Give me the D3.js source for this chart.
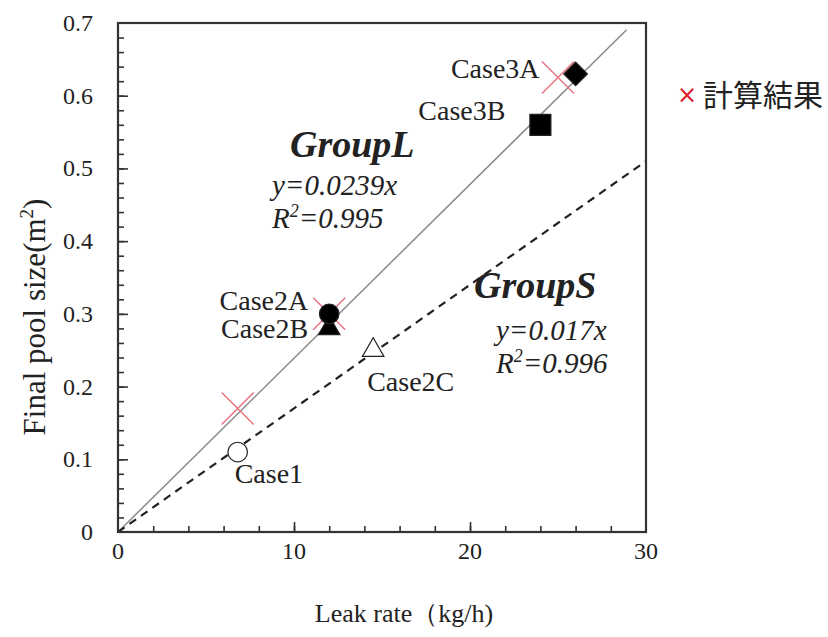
<!DOCTYPE html>
<html>
<head>
<meta charset="utf-8">
<script src="https://cdn.jsdelivr.net/npm/d3@7"></script>
<style>
  html, body { margin: 0; padding: 0; background: #fff; }
  svg { display: block; }
  .serif { font-family: "Liberation Serif", "DejaVu Serif", serif; fill: #222; }
</style>
</head>
<body>
<svg id="chart" width="828" height="637"></svg>
<script>
// Measured cases
const cases = ["Case1", "Case2A", "Case2B", "Case2C", "Case3A", "Case3B"];
const leakRate = [6.8, 12, 12, 14.5, 26, 24];
const poolSize = [0.11, 0.30, 0.28, 0.25, 0.63, 0.56];
const symbols = ["openCircle", "circle", "triangle", "openTriangle", "diamond", "square"];

// Calculated results (red crosses)
const calcLeak = [6.8, 12, 25];
const calcPool = [0.17, 0.30, 0.625];

// Regression lines
const groupNames = ["GroupL", "GroupS"];
const slopes = [0.0239, 0.017];
const r2 = ["0.995", "0.996"];
const lineEnds = [28.9, 30];

// Axis ticks
const xTickLabels = [0, 10, 20, 30];
const yTickLabels = [0, 0.1, 0.2, 0.3, 0.4, 0.5, 0.6, 0.7];

const svg = d3.select("#chart");
const m = { left: 118, right: 646, top: 23, bottom: 532 };

const x = d3.scaleLinear().domain([0, 30]).range([m.left, m.right]);
const y = d3.scaleLinear().domain([0, 0.7]).range([m.bottom, m.top]);

// Regression lines
const lineGen = d3.line().x(d => x(d[0])).y(d => y(d[1]));
svg.append("path")
  .attr("d", lineGen([[0, 0], [lineEnds[0], slopes[0] * lineEnds[0]]]))
  .attr("fill", "none").attr("stroke", "#8a8a8a").attr("stroke-width", 1.5);
svg.append("path")
  .attr("d", lineGen([[0, 0], [lineEnds[1], slopes[1] * lineEnds[1]]]))
  .attr("fill", "none").attr("stroke", "#222").attr("stroke-width", 2.2)
  .attr("stroke-dasharray", "8,6");

// Frame
svg.append("rect")
  .attr("x", m.left).attr("y", m.top)
  .attr("width", m.right - m.left).attr("height", m.bottom - m.top)
  .attr("fill", "none").attr("stroke", "#333").attr("stroke-width", 2.2);

// Ticks (inward)
const xAxisMinor = d3.axisTop(x).tickValues(d3.range(2, 30, 2)).tickSize(6).tickFormat("");
const xAxisMajor = d3.axisTop(x).tickValues([10, 20]).tickSize(10).tickFormat("");
const yAxisMinor = d3.axisRight(y).tickValues(d3.range(1, 35).map(i => i * 0.02)).tickSize(6).tickFormat("");
const yAxisMajor = d3.axisRight(y).tickValues(d3.range(1, 7).map(i => i * 0.1)).tickSize(10).tickFormat("");
[xAxisMinor, xAxisMajor].forEach(ax => {
  const g = svg.append("g").attr("transform", `translate(0,${m.bottom})`).call(ax);
  g.select(".domain").remove();
  g.selectAll("line").attr("stroke", "#333").attr("stroke-width", 1.6);
});
[yAxisMinor, yAxisMajor].forEach(ax => {
  const g = svg.append("g").attr("transform", `translate(${m.left},0)`).call(ax);
  g.select(".domain").remove();
  g.selectAll("line").attr("stroke", "#333").attr("stroke-width", 1.6);
});

// Tick labels
svg.append("g").selectAll("text").data(xTickLabels).join("text")
  .attr("class", "serif").attr("x", d => x(d)).attr("y", 559)
  .attr("text-anchor", "middle").attr("font-size", 24).text(d => d);
svg.append("g").selectAll("text").data(yTickLabels).join("text")
  .attr("class", "serif").attr("x", 93).attr("y", d => y(d) + 8)
  .attr("text-anchor", "end").attr("font-size", 24).text(d => d);

// Axis titles
svg.append("text").attr("class", "serif")
  .attr("x", 404).attr("y", 622)
  .attr("text-anchor", "middle").attr("font-size", 26)
  .text("Leak rate（kg/h)");
const yt = svg.append("text").attr("class", "serif")
  .attr("transform", `translate(45,317) rotate(-90)`)
  .attr("text-anchor", "middle").attr("font-size", 31);
yt.append("tspan").text("Final pool size(m");
yt.append("tspan").attr("font-size", 19).attr("dy", -12).text("2");
yt.append("tspan").attr("dy", 12).text(")");

// Calculated-result crosses
const crossHalf = 16;
const cross = svg.append("g");
calcLeak.forEach((cx, i) => {
  const px = x(cx), py = y(calcPool[i]);
  cross.append("path")
    .attr("d", `M${px - crossHalf},${py - crossHalf}L${px + crossHalf},${py + crossHalf}M${px - crossHalf},${py + crossHalf}L${px + crossHalf},${py - crossHalf}`)
    .attr("stroke", "#e8707e").attr("stroke-width", 1.4).attr("fill", "none");
});

// Case markers
const symDefs = {
  circle:       { type: d3.symbolCircle,   size: 300, fill: "#000" },
  openCircle:   { type: d3.symbolCircle,   size: 300, fill: "#fff" },
  triangle:     { type: d3.symbolTriangle, size: 200, fill: "#000" },
  openTriangle: { type: d3.symbolTriangle, size: 200, fill: "#fff" },
  diamond:      { type: d3.symbolSquare,   size: 280, fill: "#000", rotate: 45 },
  square:       { type: d3.symbolSquare,   size: 440, fill: "#000" }
};
const order = [2, 1, 0, 3, 4, 5]; // triangle under circle for Case2A/2B
order.forEach(i => {
  const s = symDefs[symbols[i]];
  svg.append("path")
    .attr("d", d3.symbol().type(s.type).size(s.size)())
    .attr("transform", `translate(${x(leakRate[i])},${y(poolSize[i])}) rotate(${s.rotate || 0})`)
    .attr("fill", s.fill).attr("stroke", "#222").attr("stroke-width", 1.2);
});

// Case labels
const labelPos = {
  Case1:  { dx: -3,  dy: 31, anchor: "start" },
  Case2A: { dx: -21, dy: -4, anchor: "end" },
  Case2B: { dx: -21, dy: 10, anchor: "end" },
  Case2C: { dx: -6,  dy: 41, anchor: "start" },
  Case3A: { dx: -36, dy: 4, anchor: "end" },
  Case3B: { dx: -35, dy: -5, anchor: "end" }
};
cases.forEach((c, i) => {
  const p = labelPos[c];
  svg.append("text").attr("class", "serif")
    .attr("x", x(leakRate[i]) + p.dx).attr("y", y(poolSize[i]) + p.dy)
    .attr("text-anchor", p.anchor).attr("font-size", 28).text(c);
});

// Group annotations
const groupPos = [
  { gx: 290, gy: 157, ex: 272, ey: 195 },
  { gx: 474, gy: 298, ex: 496, ey: 340 }
];
groupNames.forEach((g, i) => {
  const p = groupPos[i];
  svg.append("text").attr("class", "serif")
    .attr("x", p.gx).attr("y", p.gy)
    .attr("font-size", 38).attr("font-weight", "bold").attr("font-style", "italic")
    .attr("fill", "#333").text(g);
  svg.append("text").attr("class", "serif")
    .attr("x", p.ex).attr("y", p.ey)
    .attr("font-size", 29).attr("font-style", "italic")
    .text(`y=${slopes[i]}x`);
  const r = svg.append("text").attr("class", "serif")
    .attr("x", p.ex).attr("y", p.ey + 33)
    .attr("font-size", 29).attr("font-style", "italic");
  r.append("tspan").text("R");
  r.append("tspan").attr("font-size", 18).attr("dy", -11).text("2");
  r.append("tspan").attr("dy", 11).text(`=${r2[i]}`);
});

// Legend
svg.append("text")
  .attr("x", 687).attr("y", 103).attr("text-anchor", "middle")
  .attr("font-family", "'DejaVu Sans', sans-serif").attr("font-size", 24)
  .attr("fill", "#e0202a").text("×");
svg.append("text")
  .attr("x", 703).attr("y", 106)
  .attr("font-family", "'Noto Sans CJK JP', sans-serif").attr("font-size", 30)
  .attr("fill", "#222").text("計算結果");
</script>
</body>
</html>
